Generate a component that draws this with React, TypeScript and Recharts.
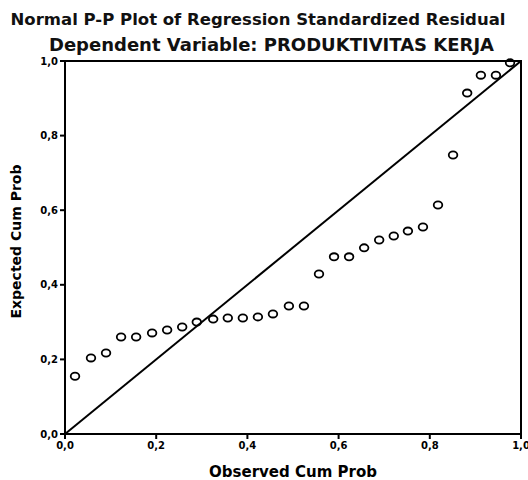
import React from "react";
import {
  ScatterChart,
  Scatter,
  XAxis,
  YAxis,
  ReferenceLine,
  ReferenceArea,
  Label,
} from "recharts";

const observed = [
  0.022, 0.057, 0.09, 0.123, 0.156, 0.191, 0.224, 0.257, 0.289, 0.325,
  0.357, 0.39, 0.423, 0.456, 0.491, 0.524, 0.557, 0.59, 0.623, 0.656,
  0.689, 0.721, 0.752, 0.785, 0.818, 0.851, 0.882, 0.912, 0.945, 0.976,
];
const expected = [
  0.155, 0.204, 0.217, 0.26, 0.26, 0.271, 0.279, 0.287, 0.3, 0.308,
  0.311, 0.311, 0.314, 0.322, 0.343, 0.343, 0.429, 0.475, 0.475, 0.499,
  0.52, 0.531, 0.544, 0.555, 0.614, 0.748, 0.914, 0.962, 0.962, 0.995,
];
const tickValues = [0, 0.2, 0.4, 0.6, 0.8, 1.0];
const titleText = "Normal P-P Plot of Regression Standardized Residual";
const subtitleText = "Dependent Variable: PRODUKTIVITAS KERJA";
const xLabel = "Observed Cum Prob";
const yLabel = "Expected Cum Prob";

const points = observed.map((x, i) => ({ x, y: expected[i] }));
const fmt = (v: number) => v.toFixed(1).replace(".", ",");
const font = "'DejaVu Sans', 'Liberation Sans', Arial, sans-serif";

const Ring = (props: any) => (
  <ellipse
    cx={props.cx}
    cy={props.cy}
    rx={4.3}
    ry={3.6}
    fill="none"
    stroke="#000"
    strokeWidth={1.8}
  />
);

export default function App() {
  return (
    <div
      style={{
        position: "absolute",
        left: 0,
        top: 0,
        width: 528,
        height: 480,
        background: "#fff",
        fontFamily: font,
      }}
    >
      <div
        style={{
          position: "absolute",
          left: 0,
          width: 516,
          top: 10,
          textAlign: "center",
          fontWeight: "bold",
          fontSize: 16.5,
          lineHeight: "20px",
          color: "#111",
          whiteSpace: "nowrap",
        }}
      >
        {titleText}
      </div>
      <div
        style={{
          position: "absolute",
          left: 0,
          width: 543,
          top: 35,
          textAlign: "center",
          fontWeight: "bold",
          fontSize: 18,
          lineHeight: "20px",
          color: "#111",
          whiteSpace: "nowrap",
        }}
      >
        {subtitleText}
      </div>
      <ScatterChart
        width={528}
        height={480}
        margin={{ top: 61, right: 7, bottom: 12, left: 20 }}
      >
        <XAxis
          type="number"
          dataKey="x"
          domain={[0, 1]}
          ticks={tickValues}
          tickFormatter={fmt}
          height={34}
          axisLine={{ stroke: "#000", strokeWidth: 2 }}
          tickLine={{ stroke: "#000", strokeWidth: 2 }}
          tickSize={5}
          tickMargin={3}
          tick={{ fill: "#000", fontSize: 10, fontWeight: "bold", fontFamily: font }}
          interval={0}
        >
          <Label
            value={xLabel}
            position="insideBottom"
            offset={-9}
            style={{ fill: "#000", fontSize: 15, fontWeight: "bold", fontFamily: font }}
          />
        </XAxis>
        <YAxis
          type="number"
          dataKey="y"
          domain={[0, 1]}
          ticks={tickValues}
          tickFormatter={fmt}
          width={45}
          axisLine={{ stroke: "#000", strokeWidth: 2 }}
          tickLine={{ stroke: "#000", strokeWidth: 2 }}
          tickSize={5}
          tick={{ fill: "#000", fontSize: 10, fontWeight: "bold", fontFamily: font }}
          interval={0}
        >
          <Label
            value={yLabel}
            angle={-90}
            position="insideLeft"
            offset={-4}
            dy={-6}
            style={{
              fill: "#000",
              fontSize: 14,
              fontWeight: "bold",
              fontFamily: font,
              textAnchor: "middle",
            }}
          />
        </YAxis>
        <ReferenceArea
          x1={0}
          x2={1}
          y1={0}
          y2={1}
          fill="none"
          stroke="#000"
          strokeWidth={2}
          ifOverflow="visible"
        />
        <ReferenceLine
          segment={[
            { x: 0, y: 0 },
            { x: 1, y: 1 },
          ]}
          stroke="#000"
          strokeWidth={2}
          ifOverflow="visible"
        />
        <Scatter data={points} shape={Ring} isAnimationActive={false} />
      </ScatterChart>
    </div>
  );
}
